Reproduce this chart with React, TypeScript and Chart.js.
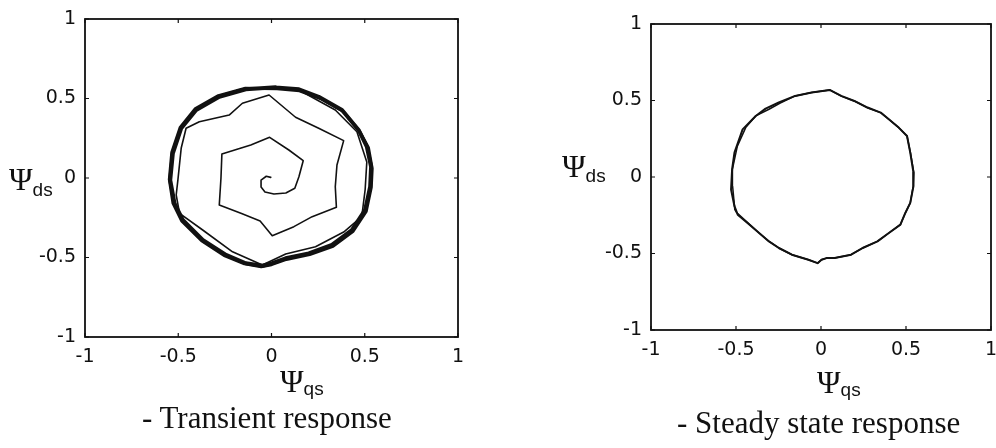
import React, { useEffect, useRef } from 'react';
import { Chart, registerables } from 'chart.js';

Chart.register(...registerables);

// Axis ticks shared by both phase-plane plots
const tickValues = [-1, -0.5, 0, 0.5, 1];
const tickLabels = ['-1', '-0.5', '0', '0.5', '1'];

// Transient response: flux trajectory spiralling out from the origin
const spiralQs = [
  -0.004, -0.028, -0.056, -0.056, -0.035, 0.013, 0.077, 0.125, 0.147, 0.170,
  0.093, -0.010, -0.111, -0.266, -0.271, -0.280, -0.164, -0.061, 0.004, 0.120,
  0.218, 0.348, 0.342, 0.351, 0.387, 0.253, 0.129, -0.013, -0.156, -0.227,
  -0.387, -0.458, -0.484, -0.502, -0.511, -0.493, -0.369, -0.209, -0.049, 0.076,
  0.236, 0.387, 0.484, 0.502, 0.511, 0.458, 0.342, 0.147, 0.022,
];
const spiralDs = [
  0.004, 0.011, -0.013, -0.057, -0.088, -0.101, -0.094, -0.065, 0.008, 0.109,
  0.176, 0.256, 0.208, 0.151, -0.002, -0.170, -0.222, -0.270, -0.363, -0.306,
  -0.243, -0.184, -0.055, 0.082, 0.235, 0.313, 0.382, 0.522, 0.470, 0.396,
  0.354, 0.313, 0.189, -0.013, -0.107, -0.222, -0.327, -0.464, -0.547, -0.478,
  -0.432, -0.340, -0.243, -0.075, 0.100, 0.291, 0.428, 0.553, 0.570,
];

// Transient response: settled flux circle, two overlapping passes
const ringAQs = [
  0.022, 0.147, 0.253, 0.378, 0.467, 0.511, 0.534, 0.529, 0.502, 0.431,
  0.324, 0.200, 0.076, 0.004, -0.049, -0.138, -0.244, -0.369, -0.476, -0.520,
  -0.543, -0.529, -0.484, -0.404, -0.280, -0.138, 0.022,
];
const ringADs = [
  0.570, 0.558, 0.511, 0.428, 0.302, 0.197, 0.071, -0.055, -0.201, -0.327,
  -0.421, -0.474, -0.505, -0.536, -0.552, -0.536, -0.484, -0.390, -0.264, -0.159,
  -0.013, 0.155, 0.313, 0.428, 0.511, 0.558, 0.570,
];
const ringBQs = [
  0.030, 0.150, 0.262, 0.385, 0.472, 0.520, 0.540, 0.535, 0.508, 0.438,
  0.330, 0.205, 0.080, 0.000, -0.055, -0.145, -0.250, -0.375, -0.482, -0.528,
  -0.548, -0.535, -0.490, -0.410, -0.285, -0.140, 0.030,
];
const ringBDs = [
  0.562, 0.548, 0.500, 0.418, 0.295, 0.190, 0.060, -0.060, -0.210, -0.335,
  -0.430, -0.482, -0.512, -0.545, -0.558, -0.540, -0.490, -0.395, -0.270, -0.160,
  -0.010, 0.160, 0.318, 0.435, 0.518, 0.565, 0.562,
];

// Steady state response: two consecutive revolutions of the flux locus
const steadyAQs = [
  0.051, 0.119, 0.196, 0.274, 0.351, 0.399, 0.457, 0.506, 0.525, 0.544,
  0.544, 0.525, 0.496, 0.467, 0.399, 0.332, 0.245, 0.177, 0.080, 0.032,
  0.003, -0.020, -0.074, -0.171, -0.248, -0.306, -0.364, -0.422, -0.490, -0.509,
  -0.529, -0.523, -0.509, -0.461, -0.384, -0.326, -0.248, -0.152, -0.055, 0.051,
];
const steadyADs = [
  0.569, 0.530, 0.497, 0.454, 0.421, 0.377, 0.323, 0.268, 0.159, 0.028,
  -0.060, -0.169, -0.235, -0.311, -0.366, -0.421, -0.464, -0.508, -0.530, -0.530,
  -0.541, -0.563, -0.541, -0.508, -0.464, -0.421, -0.366, -0.311, -0.246, -0.191,
  -0.082, 0.049, 0.159, 0.311, 0.399, 0.447, 0.487, 0.530, 0.552, 0.569,
];
const steadyBQs = [
  0.051, 0.122, 0.196, 0.276, 0.351, 0.402, 0.457, 0.506, 0.527, 0.546,
  0.542, 0.525, 0.496, 0.467, 0.399, 0.332, 0.245, 0.177, 0.080, 0.032,
  0.003, -0.020, -0.074, -0.171, -0.248, -0.306, -0.364, -0.425, -0.498, -0.507,
  -0.520, -0.521, -0.492, -0.443, -0.384, -0.306, -0.240, -0.152, -0.055, 0.051,
];
const steadyBDs = [
  0.569, 0.527, 0.497, 0.451, 0.421, 0.374, 0.323, 0.268, 0.155, 0.030,
  -0.062, -0.169, -0.235, -0.311, -0.366, -0.421, -0.464, -0.508, -0.530, -0.530,
  -0.541, -0.563, -0.541, -0.508, -0.464, -0.421, -0.366, -0.305, -0.230, -0.213,
  -0.060, 0.052, 0.202, 0.323, 0.399, 0.443, 0.483, 0.530, 0.552, 0.569,
];

const zip = (xs: number[], ys: number[]) => xs.map((x, i) => ({ x, y: ys[i] }));

const line = (xs: number[], ys: number[], width: number) => ({
  data: zip(xs, ys),
  showLine: true,
  borderColor: '#111',
  borderWidth: width,
  pointRadius: 0,
  tension: 0,
  fill: false,
  borderJoinStyle: 'round' as const,
  borderCapStyle: 'round' as const,
});

// Full box around the plot area with short inward tick marks
const framePlugin = {
  id: 'frameBox',
  afterDatasetsDraw(chart: any) {
    const { ctx, chartArea: a, scales } = chart;
    ctx.save();
    ctx.strokeStyle = '#111';
    ctx.lineWidth = 1.8;
    ctx.strokeRect(a.left, a.top, a.right - a.left, a.bottom - a.top);
    ctx.lineWidth = 1.2;
    ctx.beginPath();
    tickValues.forEach((v) => {
      const x = scales.x.getPixelForValue(v);
      const y = scales.y.getPixelForValue(v);
      ctx.moveTo(x, a.bottom);
      ctx.lineTo(x, a.bottom - 4);
      ctx.moveTo(x, a.top);
      ctx.lineTo(x, a.top + 4);
      ctx.moveTo(a.left, y);
      ctx.lineTo(a.left + 4, y);
      ctx.moveTo(a.right, y);
      ctx.lineTo(a.right - 4, y);
    });
    ctx.stroke();
    ctx.restore();
  },
};

type Area = { left: number; top: number; right: number; bottom: number };

const tickFont = { family: '"DejaVu Sans", "Liberation Sans", sans-serif', size: 19 };

function axis(fit: (s: any) => void, padding: number) {
  return {
    type: 'linear' as const,
    min: -1,
    max: 1,
    grid: { display: false, drawTicks: false },
    border: { display: false },
    afterBuildTicks: (s: any) => {
      s.ticks = tickValues.map((value) => ({ value }));
    },
    afterFit: (s: any) => {
      fit(s);
      // labels may overhang the plot box; keep the box where it is
      s.paddingLeft = 0;
      s.paddingRight = 0;
      s.paddingTop = 0;
      s.paddingBottom = 0;
    },
    ticks: {
      padding,
      color: '#111',
      font: tickFont,
      autoSkip: false,
      maxRotation: 0,
      callback: (v: any) => {
        const i = tickValues.indexOf(Number(v));
        return i >= 0 ? tickLabels[i] : '';
      },
    },
  };
}

function PhasePlot({ width, height, area, datasets }: { width: number; height: number; area: Area; datasets: any[] }) {
  const ref = useRef<HTMLCanvasElement | null>(null);
  useEffect(() => {
    if (!ref.current) return;
    const xAxisHeight = 40;
    const chart = new Chart(ref.current, {
      type: 'scatter',
      data: { datasets },
      options: {
        responsive: false,
        maintainAspectRatio: false,
        animation: false,
        devicePixelRatio: 1,
        layout: {
          autoPadding: false,
          padding: {
            left: 0,
            top: area.top,
            right: width - area.right,
            bottom: height - area.bottom - xAxisHeight,
          },
        },
        plugins: { legend: { display: false }, tooltip: { enabled: false } },
        scales: {
          x: axis((s: any) => { s.height = xAxisHeight; }, 9),
          y: axis((s: any) => { s.width = area.left; }, 9),
        },
      },
      plugins: [framePlugin],
    } as any);
    return () => chart.destroy();
  }, []);
  return <canvas ref={ref} width={width} height={height} style={{ width, height, display: 'block' }} />;
}

const serif = '"Liberation Serif", "Times New Roman", serif';
const sans = '"Liberation Sans", Arial, sans-serif';

// Greek flux symbol with a subscript, positioned by its baseline
function FluxLabel({ left, baseline, sub, drop }: { left: number; baseline: number; sub: string; drop: number }) {
  const size = 32;
  return (
    <div
      style={{
        position: 'absolute',
        left,
        top: baseline - size * 0.8375,
        fontFamily: serif,
        fontSize: size,
        lineHeight: `${size}px`,
        whiteSpace: 'nowrap',
        color: '#111',
      }}
    >
      Ψ<span style={{ fontFamily: sans, fontSize: 19, position: 'relative', top: drop }}>{sub}</span>
    </div>
  );
}

function Caption({ left, baseline, text }: { left: number; baseline: number; text: string }) {
  const size = 31;
  return (
    <div
      style={{
        position: 'absolute',
        left,
        top: baseline - size * 0.8375,
        fontFamily: serif,
        fontSize: size,
        lineHeight: `${size}px`,
        whiteSpace: 'nowrap',
        color: '#111',
      }}
    >
      {text}
    </div>
  );
}

export default function App() {
  const transientSets = [
    line(spiralQs, spiralDs, 1.6),
    line(ringAQs, ringADs, 4),
    line(ringBQs, ringBDs, 3),
  ];
  const steadySets = [
    line(steadyAQs, steadyADs, 2),
    line(steadyBQs, steadyBDs, 1.5),
  ];
  return (
    <div style={{ position: 'fixed', left: 0, top: 0, width: 996, height: 448, background: '#fff', overflow: 'hidden' }}>
      <div style={{ position: 'absolute', left: 0, top: 0 }}>
        <PhasePlot width={500} height={448} area={{ left: 85, top: 19, right: 458, bottom: 337 }} datasets={transientSets} />
      </div>
      <div style={{ position: 'absolute', left: 500, top: 0 }}>
        <PhasePlot width={496} height={448} area={{ left: 151, top: 24, right: 491, bottom: 330 }} datasets={steadySets} />
      </div>
      <FluxLabel left={9} baseline={190} sub="ds" drop={6} />
      <FluxLabel left={280} baseline={392} sub="qs" drop={3} />
      <Caption left={142} baseline={428} text="- Transient response" />
      <FluxLabel left={562} baseline={177} sub="ds" drop={5} />
      <FluxLabel left={817} baseline={393} sub="qs" drop={3} />
      <Caption left={677} baseline={433} text="- Steady state response" />
    </div>
  );
}
